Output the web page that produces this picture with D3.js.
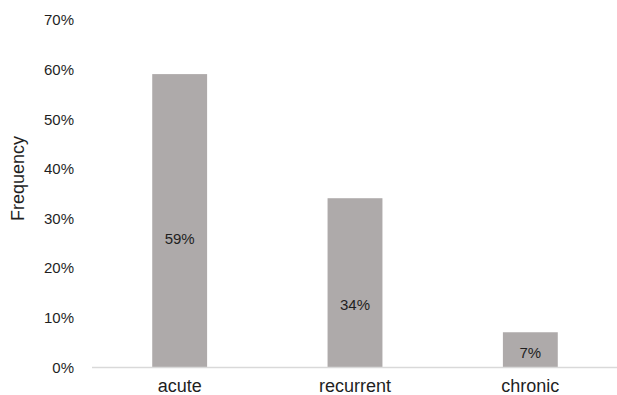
<!DOCTYPE html>
<html><head><meta charset="utf-8">
<script src="https://cdn.jsdelivr.net/npm/d3@7"></script>
<style>body{margin:0;background:#fff}svg{display:block}text{font-family:"Liberation Sans",Arial,sans-serif;fill:#1f1f1f}</style>
</head><body>
<script>
const categories = ["acute", "recurrent", "chronic"];
const values = [59, 34, 7];
const labelAt = [25.9, 12.6, 2.8];
const yTicks = [0, 10, 20, 30, 40, 50, 60, 70];
const yTitle = "Frequency";

const W = 617, H = 395;
const svg = d3.select("body").append("svg").attr("width", W).attr("height", H);
const x = d3.scaleBand().domain(categories).range([92, 618]).paddingInner(0.687).paddingOuter(0.3435);
const y = d3.scaleLinear().domain([0, 70]).range([367, 19.5]);

// y tick labels
const ya = svg.append("g").attr("transform", "translate(74,0)")
  .call(d3.axisLeft(y).tickValues(yTicks).tickSize(0).tickPadding(0).tickFormat(d => d + "%"));
ya.select(".domain").remove();
ya.selectAll("text").style("font-size", "15px").attr("fill", "#1f1f1f").attr("dy", "0.35em").attr("font-family", null);

// bars
svg.selectAll("rect.bar").data(values).join("rect").attr("class", "bar")
  .attr("x", (d, i) => x(categories[i])).attr("width", x.bandwidth())
  .attr("y", d => y(d)).attr("height", d => y(0) - y(d))
  .attr("fill", "#aeaaaa");

// baseline
svg.append("line").attr("x1", 92).attr("x2", 617).attr("y1", y(0) + 0.5).attr("y2", y(0) + 0.5)
  .attr("stroke", "#d9d9d9").attr("stroke-width", 1.5);

// data labels
svg.selectAll("text.lbl").data(values).join("text").attr("class", "lbl")
  .attr("x", (d, i) => x(categories[i]) + x.bandwidth() / 2)
  .attr("y", (d, i) => y(labelAt[i])).attr("dy", "0.35em")
  .attr("text-anchor", "middle").style("font-size", "15px").text(d => d + "%");

// x axis labels
const xa = svg.append("g").attr("transform", `translate(0,${y(0)})`)
  .call(d3.axisBottom(x).tickSize(0).tickPadding(0));
xa.select(".domain").remove();
xa.selectAll("text").attr("y", 25).attr("dy", null).style("font-size", "18px").attr("fill", "#1f1f1f").attr("font-family", null);

// y title
svg.append("text").attr("transform", "translate(24,178.5) rotate(-90)")
  .attr("text-anchor", "middle").style("font-size", "18px").text(yTitle);
</script>
</body></html>
